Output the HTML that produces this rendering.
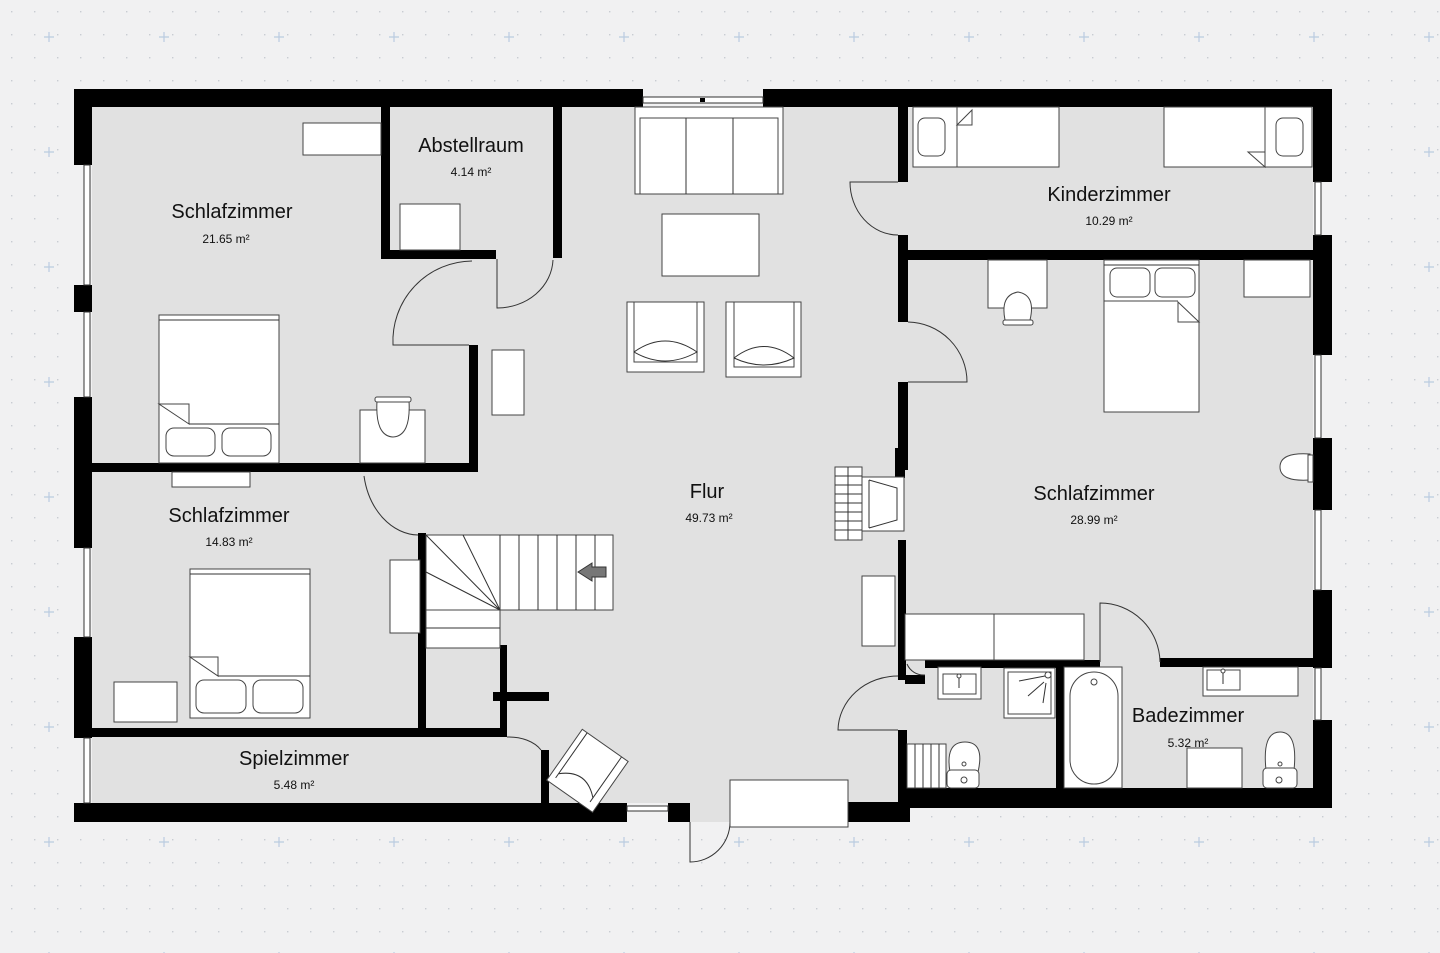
<!DOCTYPE html>
<html><head><meta charset="utf-8"><style>
html,body{margin:0;padding:0;background:#f1f1f2;}
svg{display:block}
text{font-family:"Liberation Sans",sans-serif;fill:#111;text-anchor:middle}
.n{font-size:20px}.a{font-size:12px}
.f{fill:#fff;stroke:#444;stroke-width:1}
.l{fill:none;stroke:#333;stroke-width:1}
.w{fill:#000}
.win{fill:#fff;stroke:#333;stroke-width:1}
.gap{fill:#f1f1f2}
</style></head><body>
<svg width="1440" height="953" viewBox="0 0 1440 953" xmlns="http://www.w3.org/2000/svg">
<defs>
<pattern id="dots" width="23" height="23" patternUnits="userSpaceOnUse"><rect x="11" y="11" width="1.4" height="1.4" fill="#c9ccd2"/></pattern>
<pattern id="plus" width="115" height="115" patternUnits="userSpaceOnUse" x="-8" y="-20"><path d="M57 52v10M52 57h10" stroke="#b9cbe0" stroke-width="1.2"/></pattern>
</defs>
<rect width="1440" height="953" fill="#f1f1f2"/>
<rect width="1440" height="953" fill="url(#dots)"/>
<rect width="1440" height="953" fill="url(#plus)"/>

<!-- floor -->
<path d="M74 89H1332V808H905V822H690V808H74Z" fill="#e1e1e1"/>
<rect x="690" y="803" width="40" height="10" fill="#e1e1e1"/>

<!-- outer walls -->
<rect class="w" x="74" y="89" width="569" height="18"/>
<rect class="w" x="763" y="89" width="569" height="18"/>
<rect class="w" x="74" y="89" width="18" height="733"/>
<rect class="w" x="1313" y="89" width="19" height="719"/>
<rect class="w" x="74" y="803" width="553" height="19"/>
<rect class="w" x="668" y="803" width="22" height="19"/>
<rect class="w" x="848" y="802" width="62" height="20"/>
<rect class="w" x="898" y="788" width="434" height="20"/>

<!-- windows -->
<rect class="gap" x="643" y="89" width="120" height="18"/>
<rect class="win" x="643" y="97" width="120" height="6"/><rect x="700" y="98" width="5" height="4" fill="#000"/>
<rect class="gap" x="627" y="803" width="41" height="19"/>
<rect class="win" x="627" y="806" width="41" height="5"/>
<g>
<rect class="gap" x="74" y="165" width="18" height="120"/><rect class="gap" x="74" y="312" width="18" height="85"/>
<rect class="gap" x="74" y="548" width="18" height="89"/><rect class="gap" x="74" y="738" width="18" height="65"/>
<rect class="gap" x="1313" y="182" width="19" height="53"/><rect class="gap" x="1313" y="355" width="19" height="83"/>
<rect class="gap" x="1313" y="510" width="19" height="80"/><rect class="gap" x="1313" y="668" width="19" height="52"/>
</g>
<g fill="#fff" stroke="#333">
<rect x="84" y="165" width="6" height="120"/><rect x="84" y="312" width="6" height="85"/>
<rect x="84" y="548" width="6" height="89"/><rect x="84" y="738" width="6" height="65"/>
<rect x="1315" y="182" width="6" height="53"/><rect x="1315" y="355" width="6" height="83"/>
<rect x="1315" y="510" width="6" height="80"/><rect x="1315" y="668" width="6" height="52"/>
</g>

<!-- interior walls -->
<rect class="w" x="381" y="107" width="9" height="151"/>
<rect class="w" x="381" y="250" width="115" height="9"/>
<rect class="w" x="553" y="107" width="9" height="151"/>
<rect class="w" x="469" y="345" width="9" height="127"/>
<rect class="w" x="92" y="463" width="386" height="9"/>
<rect class="w" x="418" y="533" width="8" height="204"/>
<rect class="w" x="500" y="645" width="7" height="92"/>
<rect class="w" x="493" y="692" width="56" height="9"/>
<rect class="w" x="92" y="728" width="415" height="9"/>
<rect class="w" x="541" y="750" width="8" height="55"/>
<rect class="w" x="898" y="107" width="10" height="75"/>
<rect class="w" x="898" y="235" width="10" height="87"/>
<rect class="w" x="898" y="250" width="415" height="10"/>
<rect class="w" x="898" y="382" width="10" height="88"/>
<rect class="w" x="895" y="448" width="10" height="30"/>
<rect class="w" x="898" y="540" width="8" height="140"/>
<rect class="w" x="898" y="730" width="9" height="78"/>
<rect class="w" x="905" y="675" width="20" height="9"/>
<rect class="w" x="925" y="660" width="175" height="8"/>
<rect class="w" x="1160" y="658" width="153" height="9"/>
<rect class="w" x="1056" y="662" width="8" height="126"/>

<!-- doors -->
<path class="l" d="M472 261 A80 80 0 0 0 393 345 H469"/>
<path class="l" d="M553 260 A56 50 0 0 1 497 308 V259"/>
<path class="l" d="M364 476 A56 72 0 0 0 418 535"/>
<path class="l" d="M507 737 A36 24 0 0 1 541 750"/>
<path class="l" d="M898 182 H850 A48 53 0 0 0 898 235"/>
<path class="l" d="M908 322 A60 60 0 0 1 967 382 H908"/>
<path class="l" d="M898 676 A60 55 0 0 0 838 730 H898"/>
<path class="l" d="M1100 662 V603 A60 60 0 0 1 1160 662"/>
<path class="l" d="M690 822 V862 A40 40 0 0 0 730 822"/>
<path class="l" d="M907 664 A18 18 0 0 0 925 675"/>

<!-- Schlafzimmer 1 furniture -->
<rect class="f" x="303" y="123" width="78" height="32"/>
<rect class="f" x="400" y="204" width="60" height="46"/>
<rect class="f" x="159" y="315" width="120" height="148"/>
<line class="l" x1="159" y1="320" x2="279" y2="320"/>
<path class="f" d="M159 404H189V424Z"/><line class="l" x1="189" y1="424" x2="279" y2="424"/>
<rect class="f" x="166" y="428" width="49" height="28" rx="8"/><rect class="f" x="222" y="428" width="49" height="28" rx="8"/>
<rect class="f" x="360" y="410" width="65" height="53"/>
<path class="f" d="M377 401Q375 436 393 437Q411 436 409 401Z"/><rect class="f" x="375" y="397" width="36" height="5" rx="2"/>
<rect class="f" x="172" y="472" width="78" height="15"/>

<!-- Flur furniture -->
<rect class="f" x="635" y="107" width="148" height="87"/>
<rect class="f" x="640" y="118" width="138" height="76"/>
<line class="l" x1="686" y1="118" x2="686" y2="194"/><line class="l" x1="733" y1="118" x2="733" y2="194"/>
<rect class="f" x="662" y="214" width="97" height="62"/>
<rect class="f" x="627" y="302" width="77" height="70"/><rect class="f" x="634" y="302" width="63" height="60"/>
<path class="l" d="M634 352Q665 330 697 352Q665 370 634 352"/>
<rect class="f" x="726" y="302" width="75" height="75"/><rect class="f" x="734" y="302" width="60" height="65"/>
<path class="l" d="M734 358Q764 335 794 358Q764 372 734 358"/>
<rect class="f" x="492" y="350" width="32" height="65"/>
<rect class="f" x="862" y="576" width="33" height="70"/>
<rect class="f" x="730" y="780" width="118" height="47"/>
<g transform="rotate(35 588 770)"><rect class="f" x="560" y="740" width="56" height="62"/><path class="l" d="M566 740V795M608 740V795M566 790Q587 770 608 790"/></g>
<rect class="f" x="835" y="467" width="27" height="73"/>
<path class="l" d="M835 476H862M835 485H862M835 494H862M835 503H862M835 512H862M835 521H862M835 530H862M848 467V540"/>
<rect class="f" x="862" y="477" width="42" height="54"/>
<path class="l" d="M869 480L897 488V520L869 528M869 480V528"/>

<!-- Stairs -->
<rect class="f" x="426" y="535" width="187" height="75"/>
<rect class="f" x="426" y="610" width="74" height="38"/>
<line class="l" x1="426" y1="628" x2="500" y2="628"/>
<path class="l" d="M500 535V610M519 535V610M538 535V610M557 535V610M576 535V610M595 535V610M426 535L500 610M463 535L500 610M426 572L500 610"/>
<path d="M578 572L592 563V567H606V577H592V581Z" fill="#777" stroke="#333"/>

<!-- Schlafzimmer 2 -->
<rect class="f" x="390" y="560" width="30" height="73"/>
<rect class="f" x="190" y="569" width="120" height="149"/>
<line class="l" x1="190" y1="574" x2="310" y2="574"/>
<path class="f" d="M190 657H218V676Z"/><line class="l" x1="218" y1="676" x2="310" y2="676"/>
<rect class="f" x="196" y="680" width="50" height="33" rx="8"/><rect class="f" x="253" y="680" width="50" height="33" rx="8"/>
<rect class="f" x="114" y="682" width="63" height="40"/>

<!-- Kinderzimmer -->
<rect class="f" x="913" y="107" width="146" height="60"/>
<rect class="f" x="918" y="118" width="27" height="38" rx="7"/>
<path class="f" d="M957 107V167M957 125L972 110V125Z"/>
<rect class="f" x="1164" y="107" width="148" height="60"/>
<rect class="f" x="1276" y="118" width="27" height="38" rx="7"/>
<path class="f" d="M1265 107V167M1248 152H1265V167Z"/>

<!-- Schlafzimmer 3 -->
<rect class="f" x="988" y="260" width="59" height="48"/>
<path class="f" d="M1005 320Q1000 295 1018 292Q1036 295 1030 320Z"/><rect class="f" x="1003" y="320" width="30" height="5" rx="2"/>
<rect class="f" x="1104" y="260" width="95" height="152"/>
<line class="l" x1="1104" y1="265" x2="1199" y2="265"/>
<rect class="f" x="1110" y="268" width="40" height="29" rx="7"/><rect class="f" x="1155" y="268" width="40" height="29" rx="7"/>
<path class="f" d="M1104 301H1178"/><path class="f" d="M1178 302L1199 322H1178Z"/>
<rect class="f" x="1244" y="260" width="66" height="37"/>
<path class="f" d="M1310 454Q1280 452 1280 467Q1280 482 1310 480Z"/><rect class="f" x="1308" y="455" width="5" height="27"/>
<rect class="f" x="905" y="614" width="89" height="46"/><rect class="f" x="994" y="614" width="90" height="46"/>

<!-- Bathrooms -->
<rect class="f" x="938" y="667" width="43" height="32"/><rect class="f" x="943" y="674" width="33" height="20"/><circle class="f" cx="959" cy="676" r="2"/><line class="l" x1="959" y1="678" x2="959" y2="688"/>
<rect class="f" x="1004" y="668" width="51" height="50"/><rect class="f" x="1008" y="672" width="43" height="42"/>
<path class="l" d="M1019 681L1045 676M1028 696L1044 682M1043 703L1046 683"/><circle class="f" cx="1048" cy="675" r="3"/>
<rect class="f" x="907" y="744" width="39" height="44"/><path class="l" d="M915 744V788M923 744V788M931 744V788M939 744V788"/>
<path class="f" d="M950 772Q945 742 965 742Q985 742 978 772Z"/><rect class="f" x="947" y="770" width="32" height="18" rx="4"/><circle class="f" cx="964" cy="764" r="2"/><circle class="f" cx="964" cy="780" r="3"/>
<rect class="f" x="1064" y="667" width="58" height="121"/><rect class="f" x="1070" y="672" width="48" height="112" rx="24"/><circle class="f" cx="1094" cy="682" r="3"/>
<rect class="f" x="1203" y="667" width="95" height="29"/><rect class="f" x="1207" y="670" width="33" height="20"/><circle class="f" cx="1223" cy="671" r="2"/><line class="l" x1="1223" y1="673" x2="1223" y2="684"/>
<rect class="f" x="1187" y="748" width="55" height="40"/>
<path class="f" d="M1266 770Q1262 732 1280 732Q1298 732 1294 770Z"/><rect class="f" x="1263" y="768" width="34" height="20" rx="4"/><circle class="f" cx="1280" cy="764" r="2"/><circle class="f" cx="1279" cy="780" r="3"/>

<!-- labels -->
<text class="n" x="232" y="218">Schlafzimmer</text><text class="a" x="226" y="243">21.65 m²</text>
<text class="n" x="471" y="152">Abstellraum</text><text class="a" x="471" y="176">4.14 m²</text>
<text class="n" x="1109" y="201">Kinderzimmer</text><text class="a" x="1109" y="225">10.29 m²</text>
<text class="n" x="229" y="522">Schlafzimmer</text><text class="a" x="229" y="546">14.83 m²</text>
<text class="n" x="707" y="498">Flur</text><text class="a" x="709" y="522">49.73 m²</text>
<text class="n" x="1094" y="500">Schlafzimmer</text><text class="a" x="1094" y="524">28.99 m²</text>
<text class="n" x="294" y="765">Spielzimmer</text><text class="a" x="294" y="789">5.48 m²</text>
<text class="n" x="1188" y="722">Badezimmer</text><text class="a" x="1188" y="747">5.32 m²</text>
</svg>
</body></html>
